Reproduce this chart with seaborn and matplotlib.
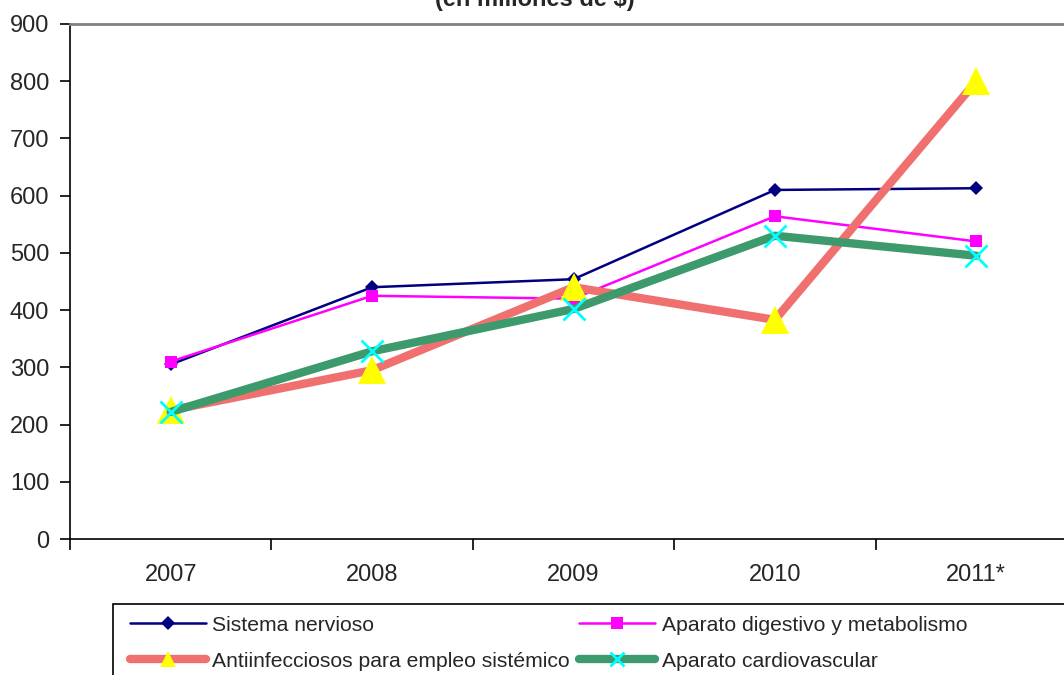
import matplotlib
matplotlib.use("Agg")
import matplotlib.pyplot as plt
from matplotlib.lines import Line2D
from matplotlib.patches import Rectangle
import seaborn as sns
import pandas as pd

years = ["2007", "2008", "2009", "2010", "2011*"]
sistema_nervioso = [305, 440, 454, 610, 613]
aparato_digestivo = [310, 425, 420, 564, 520]
antiinfecciosos = [225, 295, 440, 383, 800]
cardiovascular = [222, 328, 402, 530, 495]
series_names = ["Sistema nervioso", "Aparato digestivo y metabolismo",
                "Antiinfecciosos para empleo sistémico", "Aparato cardiovascular"]
yticks = [0, 100, 200, 300, 400, 500, 600, 700, 800, 900]

sns.set_theme(style="white")
plt.rcParams['font.family'] = ['Liberation Sans', 'DejaVu Sans']

W, H = 1064, 675
fig = plt.figure(figsize=(W / 100, H / 100), dpi=100)
ax = fig.add_axes([70 / W, (H - 539) / H, (1077 - 70) / W, (539 - 24) / H])

styles = [
    dict(color="#000080", lw=1.8, marker="D", ms=7, mfc="#000080", mec="#000080", mew=0),
    dict(color="#ff00ff", lw=1.8, marker="s", ms=8, mfc="#ff00ff", mec="#ff00ff", mew=0),
    dict(color="#f07070", lw=6, marker="^", ms=20, mfc="#ffff00", mec="#ffff00", mew=0),
    dict(color="#3c9a6c", lw=6, marker="x", ms=16, mfc="#00ffff", mec="#00ffff", mew=2),
]
legend_ms = [7, 8, 12, 10]
data = [sistema_nervioso, aparato_digestivo, antiinfecciosos, cardiovascular]
x_pos = list(range(len(years)))
for i, (name, vals, st) in enumerate(zip(series_names, data, styles)):
    df = pd.DataFrame({"x": x_pos, "y": vals})
    sns.lineplot(data=df, x="x", y="y", ax=ax, color=st["color"], linewidth=st["lw"],
                 marker=st["marker"], markersize=st["ms"], markerfacecolor=st["mfc"],
                 markeredgecolor=st["mec"], markeredgewidth=st["mew"], label=name,
                 zorder=3 + i)

leg = ax.get_legend()
if leg is not None:
    leg.remove()

ax.set_xlim(-0.5, 4.5)
ax.set_ylim(0, 900)
ax.set_xticks(x_pos)
ax.set_xticklabels(years)
ax.set_yticks(yticks)
ax.set_xlabel("")
ax.set_ylabel("")
ax.tick_params(axis="x", labelsize=17, length=0, pad=18)
ax.tick_params(axis="y", labelsize=17, length=7, width=1.2, color="#000000",
               direction="out", left=True, pad=8)
ax.set_xticks([-0.5, 0.5, 1.5, 2.5, 3.5, 4.5], minor=True)
ax.tick_params(axis="x", which="minor", length=8, width=1.2, color="#000000",
               direction="out", bottom=True)

for s in ["left", "bottom"]:
    ax.spines[s].set_color("#000000")
    ax.spines[s].set_linewidth(1.2)
ax.spines["top"].set_color("#808080")
ax.spines["top"].set_linewidth(2)
ax.spines["right"].set_visible(False)

fig.text(535 / W, 1 - 6 / H, "(en millones de $)", ha="center", va="baseline",
         fontsize=17, fontweight="bold")

# legend frame extends past the right and bottom edges, as in the reference
fig.patches.append(Rectangle((113 / W, -0.05), 1.0, (H - 604) / H + 0.05,
                             transform=fig.transFigure, fill=False,
                             edgecolor="#000000", linewidth=1.2))

proxies = [Line2D([0], [0], color=st["color"], lw=st["lw"], marker=st["marker"],
                  markersize=ms, markerfacecolor=st["mfc"], markeredgecolor=st["mec"],
                  markeredgewidth=st["mew"])
           for st, ms in zip(styles, legend_ms)]
order = [0, 2, 1, 3]
fig.legend(handles=[proxies[k] for k in order], labels=[series_names[k] for k in order],
           loc="upper left", bbox_to_anchor=(116 / W, 1 - 602 / H), ncol=2, fontsize=15.2,
           frameon=False, handlelength=3.6, columnspacing=0.45, handletextpad=0.3,
           borderpad=0.65, labelspacing=0.8, borderaxespad=0)

fig.savefig("out.png", dpi=100)
